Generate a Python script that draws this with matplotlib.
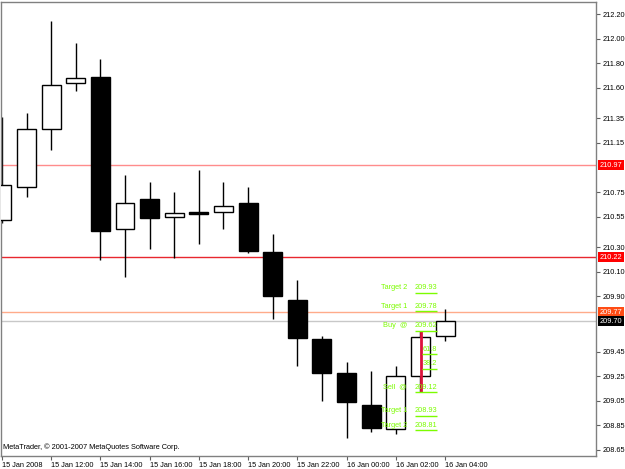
import matplotlib
matplotlib.use("Agg")
import numpy as np
from matplotlib import pyplot as plt
from matplotlib.transforms import blended_transform_factory

# hourly candles, 15 Jan 2008 10:00 -> 16 Jan 04:00
opens = [210.52, 210.79, 211.26, 211.64, 211.69, 210.45, 210.69, 210.55, 210.59, 210.59,
         210.66, 210.26, 209.87, 209.55, 209.28, 209.02, 208.82, 209.25, 209.58]
closes = [210.81, 211.26, 211.62, 211.68, 210.43, 210.66, 210.54, 210.58, 210.57, 210.64,
          210.27, 209.90, 209.56, 209.28, 209.04, 208.83, 209.25, 209.57, 209.70]
highs = [211.36, 211.39, 212.14, 211.96, 211.83, 210.89, 210.83, 210.75, 210.93, 210.83,
         210.79, 210.41, 210.03, 209.58, 209.37, 209.29, 209.33, 209.62, 209.80]
lows = [210.50, 210.71, 211.09, 211.57, 210.20, 210.06, 210.29, 210.21, 210.33, 210.45,
        210.25, 209.72, 209.33, 209.05, 208.75, 208.80, 208.78, 209.12, 209.54]

xtick_idx = [0, 2, 4, 6, 8, 10, 12, 14, 16, 18]
xtick_labels = ["15 Jan 2008", "15 Jan 12:00", "15 Jan 14:00", "15 Jan 16:00", "15 Jan 18:00",
                "15 Jan 20:00", "15 Jan 22:00", "16 Jan 00:00", "16 Jan 02:00", "16 Jan 04:00"]
yticks = [212.20, 212.00, 211.80, 211.60, 211.35, 211.15, 210.75, 210.55, 210.30, 210.10,
          209.90, 209.45, 209.25, 209.05, 208.85, 208.65]

# horizontal levels: price, line colour, label background
levels = [210.97, 210.22, 209.77, 209.70]
level_colors = ["#ff8c8c", "#e8282f", "#ffab8a", "#c8c8c8"]
level_box = ["#ff0000", "#ff0000", "#ff4c14", "#000000"]

# trade plan annotations
plan_names = ["Target 2", "Target 1", "Buy  @", "", "", "Sell  @", "Target 1", "Target 2"]
plan_values = ["209.93", "209.78", "209.62", "61.8", "38.2", "209.12", "208.93", "208.81"]
plan_prices = [209.93, 209.78, 209.62, 209.43, 209.31, 209.12, 208.93, 208.81]
buy_sell = [209.62, 209.12]

GREEN = "#7cfc00"
FONT = "Liberation Sans"
FS = 5.3

plt.rcParams["font.family"] = [FONT, "DejaVu Sans"]

fig = plt.figure(figsize=(6.25, 4.69), dpi=100)
ax = fig.add_axes([1 / 625, 13 / 469, 595 / 625, 454 / 469])

x = np.arange(len(opens))
o = np.array(opens)
c = np.array(closes)
up = c >= o

ax.vlines(x, lows, highs, color="black", linewidth=1.0, zorder=2)
ax.bar(x, np.abs(c - o), bottom=np.minimum(o, c), width=0.77,
       color=np.where(up, "white", "black"), edgecolor="black", linewidth=1.0, zorder=3)

for p, col in zip(levels, level_colors):
    ax.axhline(p, color=col, linewidth=1.0, zorder=1)

# red buy/sell range line
ax.vlines(17.03, buy_sell[1], buy_sell[0], color="#dc143c", linewidth=2.0, zorder=5)

px = 24.62  # pixels per candle
name_x = (407 - 1.9) / px
val_x = (437 - 1.9) / px
for name, val, p in zip(plan_names, plan_values, plan_prices):
    if name:
        ax.text(name_x, p + 0.012, name, color=GREEN, fontsize=FS, ha="right", va="bottom", zorder=6)
    ax.text(val_x, p + 0.012, val, color=GREEN, fontsize=FS, ha="right", va="bottom", zorder=6)
    ax.hlines(p, val_x - 3.75 * len(val) / px, val_x, color=GREEN, linewidth=1.0, zorder=6)

ax.set_xlim((1 - 1.9) / px, (596 - 1.9) / px)
ax.set_ylim(212.20 - 442 / 122.8, 212.20 + 12 / 122.8)

ax.yaxis.tick_right()
ax.set_yticks(yticks)
ax.set_yticklabels(["%.2f" % v for v in yticks])
ax.set_xticks(xtick_idx)
ax.set_xticklabels(xtick_labels, ha="left")
ax.tick_params(direction="out", length=3, width=0.8, color="#606060", labelsize=FS,
               labelcolor="black", pad=1.5)

for s in ax.spines.values():
    s.set_color("#808080")
    s.set_linewidth(1.0)

tr = blended_transform_factory(ax.transAxes, ax.transData)
for p, bg in zip(levels, level_box):
    ax.text(1.006, p, "%.2f" % p, transform=tr, color="white", fontsize=FS, ha="left", va="center",
            bbox=dict(boxstyle="square,pad=0.25", facecolor=bg, edgecolor="none"), clip_on=False)

ax.text(0.004, 0.02, "MetaTrader, \u00a9 2001-2007 MetaQuotes Software Corp.", transform=ax.transAxes,
        fontsize=FS, color="black", ha="left", va="center")

fig.savefig("out.png", dpi=100, facecolor="white")
